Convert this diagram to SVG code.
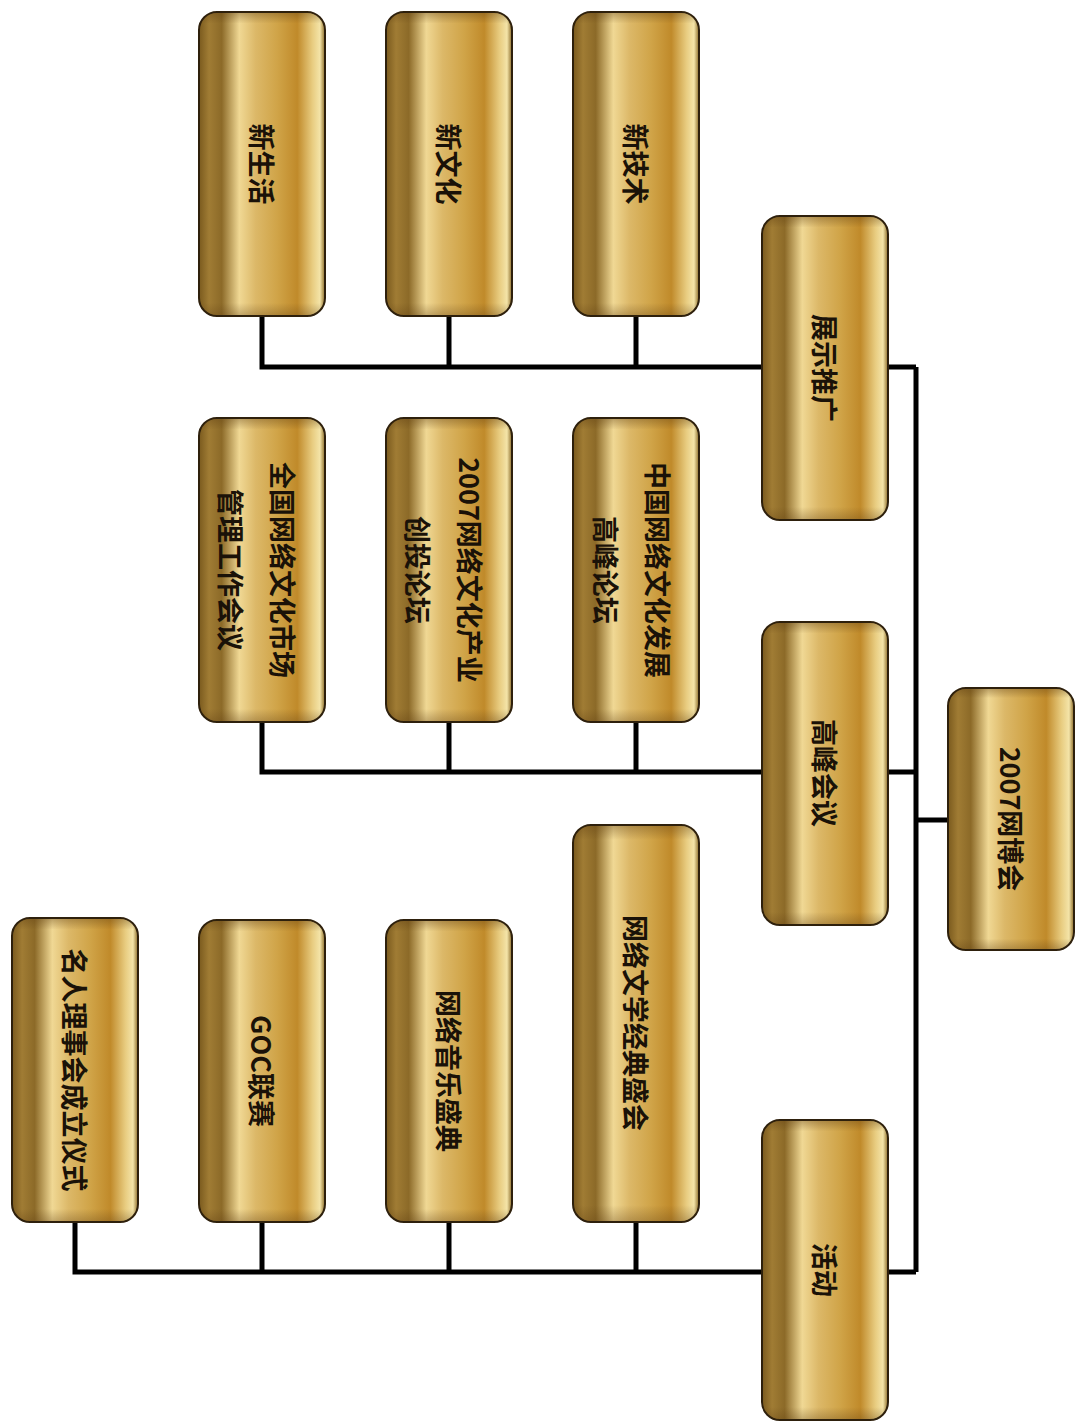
<svg xmlns="http://www.w3.org/2000/svg" width="1075" height="1423" viewBox="0 0 1075 1423">
<defs>
<linearGradient id="gold" x1="0" y1="0" x2="1" y2="0">
<stop offset="0" stop-color="#7a5a1e"/>
<stop offset="0.08" stop-color="#a07c34"/>
<stop offset="0.18" stop-color="#8c6a28"/>
<stop offset="0.32" stop-color="#f0d894"/>
<stop offset="0.45" stop-color="#dcb868"/>
<stop offset="0.62" stop-color="#d0a448"/>
<stop offset="0.78" stop-color="#c08a2a"/>
<stop offset="0.9" stop-color="#e8cc80"/>
<stop offset="0.96" stop-color="#f4e4a8"/>
<stop offset="1" stop-color="#8a6a28"/>
</linearGradient>
<linearGradient id="shade" x1="0" y1="0" x2="0" y2="1">
<stop offset="0" stop-color="#5a3a10" stop-opacity="0.35"/>
<stop offset="0.035" stop-color="#5a3a10" stop-opacity="0"/>
<stop offset="0.96" stop-color="#5a3a10" stop-opacity="0"/>
<stop offset="1" stop-color="#5a3a10" stop-opacity="0.3"/>
</linearGradient>
</defs>
<style>
.box{fill:url(#gold);stroke:#2e200c;stroke-width:2}
.sh{fill:url(#shade);stroke:none}
.t{font-family:"Noto Sans CJK SC","Noto Sans CJK TC",sans-serif;font-size:27px;font-weight:bold;fill:#1a1208;text-anchor:middle;dominant-baseline:central}
.c{fill:none;stroke:#000;stroke-width:5;stroke-linejoin:miter}
</style>
<rect width="1075" height="1423" fill="#fff"/>
<g id="connectors">
<path class="c" d="M262,316V367H916M449,316V367M636,316V367"/>
<path class="c" d="M262,722V772H916M449,722V772M636,722V772"/>
<path class="c" d="M75,1222V1272H916M262,1222V1272M449,1222V1272M636,1222V1272"/>
<path class="c" d="M916,367V1272M916,820H948"/>
</g>
<g id="n-xinshenghuo"><rect class="box" x="199" y="12" width="126" height="304" rx="18"/><rect class="sh" x="200" y="13" width="124" height="302" rx="17"/><text class="t" transform="translate(262,164) rotate(90)">新生活</text></g>
<g id="n-xinwenhua"><rect class="box" x="386" y="12" width="126" height="304" rx="18"/><rect class="sh" x="387" y="13" width="124" height="302" rx="17"/><text class="t" transform="translate(449,164) rotate(90)">新文化</text></g>
<g id="n-xinjishu"><rect class="box" x="573" y="12" width="126" height="304" rx="18"/><rect class="sh" x="574" y="13" width="124" height="302" rx="17"/><text class="t" transform="translate(636,164) rotate(90)">新技术</text></g>
<g id="n-zhanshi"><rect class="box" x="762" y="216" width="126" height="304" rx="18"/><rect class="sh" x="763" y="217" width="124" height="302" rx="17"/><text class="t" transform="translate(825,368) rotate(90)">展示推广</text></g>
<g id="n-quanguo"><rect class="box" x="199" y="418" width="126" height="304" rx="18"/><rect class="sh" x="200" y="419" width="124" height="302" rx="17"/><text class="t" transform="translate(258,570) rotate(90)"><tspan x="0" y="-26">全国网络文化市场</tspan><tspan x="0" y="26">管理工作会议</tspan></text></g>
<g id="n-chuangtou"><rect class="box" x="386" y="418" width="126" height="304" rx="18"/><rect class="sh" x="387" y="419" width="124" height="302" rx="17"/><text class="t" transform="translate(445,570) rotate(90)"><tspan x="0" y="-26">2007网络文化产业</tspan><tspan x="0" y="26">创投论坛</tspan></text></g>
<g id="n-zhongguo"><rect class="box" x="573" y="418" width="126" height="304" rx="18"/><rect class="sh" x="574" y="419" width="124" height="302" rx="17"/><text class="t" transform="translate(633,570) rotate(90)"><tspan x="0" y="-26">中国网络文化发展</tspan><tspan x="0" y="26">高峰论坛</tspan></text></g>
<g id="n-gaofeng"><rect class="box" x="762" y="622" width="126" height="303" rx="18"/><rect class="sh" x="763" y="623" width="124" height="301" rx="17"/><text class="t" transform="translate(825,773) rotate(90)">高峰会议</text></g>
<g id="n-root"><rect class="box" x="948" y="688" width="126" height="262" rx="18"/><rect class="sh" x="949" y="689" width="124" height="260" rx="17"/><text class="t" transform="translate(1011,819) rotate(90)">2007网博会</text></g>
<g id="n-wenxue"><rect class="box" x="573" y="825" width="126" height="397" rx="18"/><rect class="sh" x="574" y="826" width="124" height="395" rx="17"/><text class="t" transform="translate(636,1023) rotate(90)">网络文学经典盛会</text></g>
<g id="n-yinyue"><rect class="box" x="386" y="920" width="126" height="302" rx="18"/><rect class="sh" x="387" y="921" width="124" height="300" rx="17"/><text class="t" transform="translate(449,1071) rotate(90)">网络音乐盛典</text></g>
<g id="n-goc"><rect class="box" x="199" y="920" width="126" height="302" rx="18"/><rect class="sh" x="200" y="921" width="124" height="300" rx="17"/><text class="t" transform="translate(262,1071) rotate(90)">GOC联赛</text></g>
<g id="n-mingren"><rect class="box" x="12" y="918" width="126" height="304" rx="18"/><rect class="sh" x="13" y="919" width="124" height="302" rx="17"/><text class="t" transform="translate(75,1070) rotate(90)">名人理事会成立仪式</text></g>
<g id="n-huodong"><rect class="box" x="762" y="1120" width="126" height="300" rx="18"/><rect class="sh" x="763" y="1121" width="124" height="298" rx="17"/><text class="t" transform="translate(825,1270) rotate(90)">活动</text></g>
</svg>
